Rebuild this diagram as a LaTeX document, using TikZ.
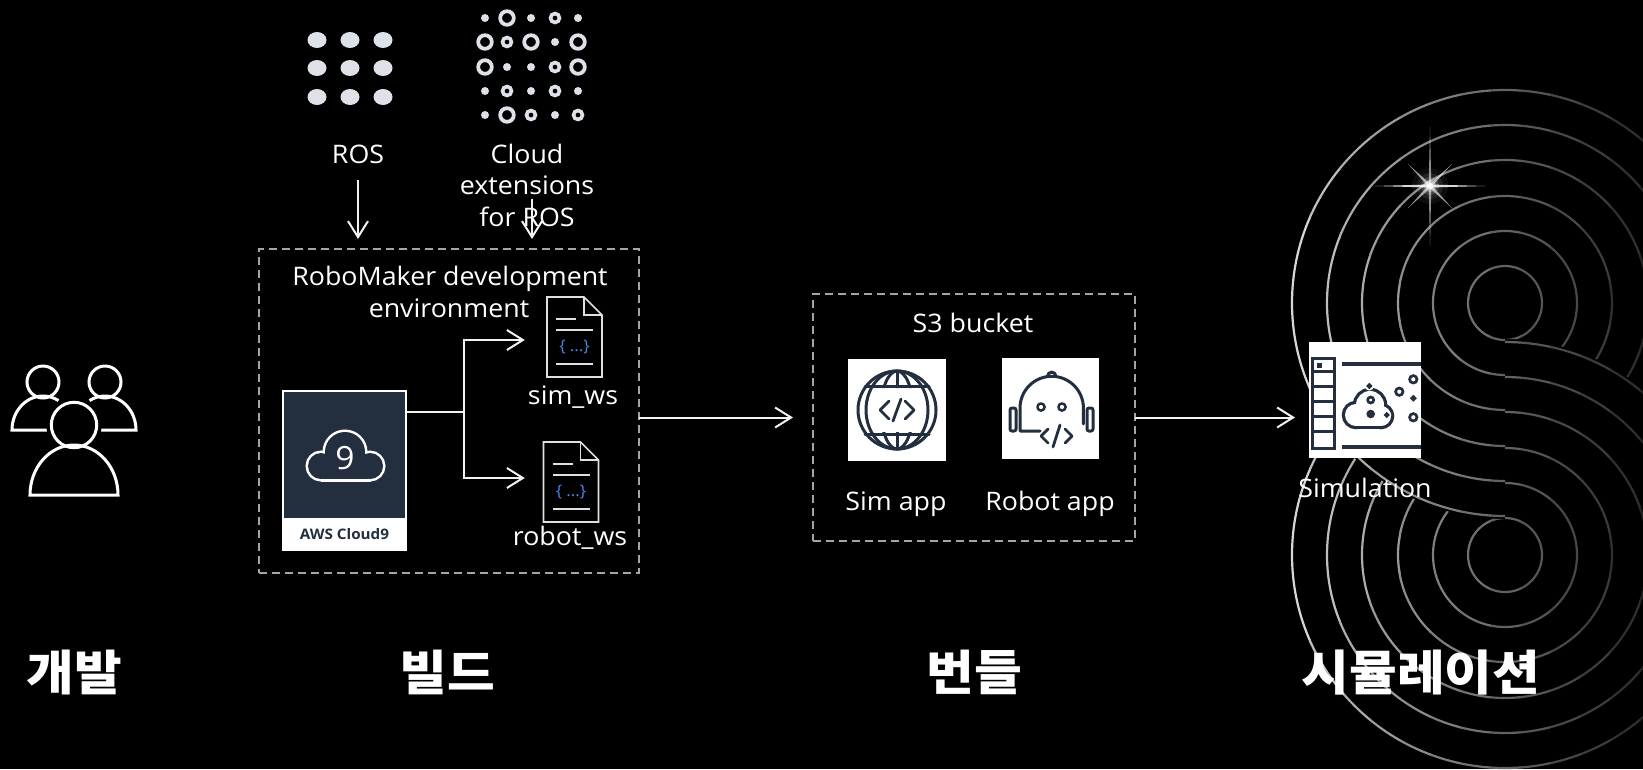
\documentclass[tikz,border=0pt]{standalone}
\usepackage{fontspec}
\setmainfont{Open Sans}[FakeStretch=1.05]
\newfontfamily\kofont{Noto Sans CJK KR}[FakeStretch=1.08]
\usetikzlibrary{arrows.meta,calc}
\definecolor{navy}{HTML}{232F3E}
\definecolor{dashgray}{HTML}{A2A6AA}
\definecolor{dotgray}{HTML}{DEE1E8}
\definecolor{codeblue}{HTML}{4A86E8}
\definecolor{linewhite}{HTML}{F2F2F2}

\begin{document}
\begin{tikzpicture}[x=1pt,y=-1pt,
  lbl/.style={text=white, font=\fontsize{25.5}{30}\selectfont, inner sep=0pt, anchor=base},
  stage/.style={text=white, font=\kofont\bfseries\fontsize{48}{52}\selectfont, inner sep=0pt, anchor=base},
  conn/.style={draw=linewhite, line width=2pt},
  arr/.style={conn, -{Straight Barb[length=16pt,width=20pt]}},
  dashbox/.style={draw=dashgray, line width=2pt, dash pattern=on 8pt off 5pt, inner sep=0pt, outer sep=0pt},
  appbox/.style={fill=white, draw=none, inner sep=0pt, outer sep=0pt},
  iconln/.style={draw=navy, line width=3pt, line cap=round, line join=round},
  pplln/.style={draw=white, line width=3pt},
  ring/.style={line width=2.2pt},
  docln/.style={draw=white!88!black, line width=1.6pt},
  docicon/.pic={
    \draw[docln] (-27.5,-40) -- (9.5,-40) -- (27.5,-22) -- (27.5,40) -- (-27.5,40) -- cycle;
    \draw[docln] (9.5,-40) -- (9.5,-22) -- (27.5,-22);
    \draw[docln] (-18.5,-18) -- (1.5,-18);
    \draw[docln] (-18.5,-7) -- (18.5,-7);
    \draw[docln] (-18.5,27) -- (18.5,27);
    \node[text=codeblue, font=\fontsize{16}{16}\selectfont, inner sep=0pt] at (0,10) {\{ ...\}};
  },
]
% canvas
\fill[black] (0,0) rectangle (1643,769);
\useasboundingbox (0,0) rectangle (1643,769);

% ---------- background swirl (two loops, fading to the right) ----------
\foreach \i in {0,...,12} {
  \pgfmathsetmacro\xa{1280+\i*30}
  \pgfmathsetmacro\lev{84-70*(\i/12)^0.8}
  \begin{scope}
    \clip (\xa-0.5,-5) rectangle (\xa+30.5,780);
    \begin{scope}
      \clip (-10,-10) -- (1800,-10) -- (1800,900) -- (-10,900) -- (-10,555) -- (1505,555) -- (1505,771)
            arc[start angle=90, end angle=-90, radius=216] -- (1505,555) -- (-10,555) -- cycle;
      \foreach \r in {37,72,107,143,178,213}
        \draw[ring, draw=white!\lev!black] (1505,303) circle[radius=\r];
    \end{scope}
    \begin{scope}
      \clip (1800,303) -- (1800,900) -- (-10,900) -- (-10,-10) -- (1800,-10) -- (1800,303) -- (1505,303) -- (1505,87)
            arc[start angle=270, end angle=90, radius=216] -- (1505,303) -- cycle;
      \foreach \r in {37,72,107,143,178,213}
        \draw[ring, draw=white!\lev!black] (1505,555) circle[radius=\r];
    \end{scope}
  \end{scope}
}
% sparkle
\coordinate (spark) at (1430,186);
\foreach \rr/\op in {18/0.05, 13/0.09, 9/0.16, 6/0.3, 3.5/0.7, 2.2/1}
  \fill[white, opacity=\op] (spark) circle[radius=\rr];
\fill[white, opacity=0.85] ($(spark)+(-55,0)$) -- ($(spark)+(0,-1.5)$) -- ($(spark)+(55,0)$) -- ($(spark)+(0,1.5)$) -- cycle;
\fill[white, opacity=0.55] ($(spark)+(0,-60)$) -- ($(spark)+(-1.3,0)$) -- ($(spark)+(0,60)$) -- ($(spark)+(1.3,0)$) -- cycle;
\fill[white, opacity=0.6] ($(spark)+(-22,-22)$) -- ($(spark)+(1.2,-1.2)$) -- ($(spark)+(22,22)$) -- ($(spark)+(-1.2,1.2)$) -- cycle;
\fill[white, opacity=0.6] ($(spark)+(22,-22)$) -- ($(spark)+(1.2,1.2)$) -- ($(spark)+(-22,22)$) -- ($(spark)+(-1.2,-1.2)$) -- cycle;

% ---------- developers ----------
\node[inner sep=0pt, minimum width=128pt, minimum height=115pt] (people) at (74,438) {};
\draw[pplln] (43,382) circle[radius=16];
\draw[pplln] (47,430) -- (12,430) arc[start angle=180, end angle=300, x radius=31, y radius=34];
\draw[pplln] (105,382) circle[radius=16];
\draw[pplln] (101,430) -- (136,430) arc[start angle=0, end angle=-120, x radius=31, y radius=34];
\fill[black, draw=black, line width=10pt] (74,425) circle[radius=22.7];
\fill[black, draw=black, line width=10pt] (30,495) arc[start angle=180, end angle=360, x radius=44, y radius=50] -- cycle;
\draw[pplln] (74,425) circle[radius=22.7];
\draw[pplln] (30,495) arc[start angle=180, end angle=360, x radius=44, y radius=50] -- cycle;

% ---------- ROS / cloud extensions ----------
\foreach \x in {317,350,383}
  \foreach \y in {40,68,97}
    \fill[dotgray] (\x,\y) ellipse[x radius=9.5, y radius=8];
\foreach \p in {(485,18),(531,18),(578,18),(555,42),(507,67),(531,67),(485,91),(531,91),(578,91),(485,115),(555,115)}
  \fill[dotgray] \p circle[radius=4];
\foreach \p in {(507,18),(485,42),(531,42),(578,42),(485,67),(578,67),(507,115)}
  \draw[dotgray, line width=3.8pt] \p circle[radius=6.8];
\foreach \p in {(555,18),(507,42),(555,67),(507,91),(555,91),(531,115),(578,115)}
  \draw[dotgray, line width=3.6pt] \p circle[radius=4.5];

\node[lbl] (ros) at (358,163) {ROS};
\node[lbl] (cext1) at (527,163) {Cloud};
\node[lbl] (cext2) at (527,194) {extensions};
\node[lbl] (cext3) at (527,226) {for ROS};

% ---------- build: RoboMaker development environment ----------
\node[dashbox, minimum width=380pt, minimum height=324pt] (devbox) at (449,411) {};
\node[lbl] (rm1) at (450,285) {RoboMaker development};
\node[lbl] (rm2) at (449,317) {environment};

\draw[arr, shorten <=17pt, shorten >=10pt] (ros.south) -- (ros.south |- devbox.north);
\coordinate (cxtop) at (532,199);
\draw[arr, shorten >=10pt] (cxtop) -- (cxtop |- devbox.north);

% AWS Cloud9 tile
\node[fill=navy, draw=white, line width=1.5pt, minimum width=123pt, minimum height=159pt, inner sep=0pt] (c9) at (344.5,470.5) {};
\fill[white] (c9.south west) rectangle ([yshift=33pt]c9.south east);
\node[text=navy, font=\bfseries\fontsize{14.5}{15}\selectfont, inner sep=0pt] (c9lbl) at (344.5,534) {AWS Cloud9};
\draw[white, line width=5pt] (321,466) circle[radius=13];
\draw[white, line width=5pt] (345,452) circle[radius=20];
\draw[white, line width=5pt] (370,466) circle[radius=13];
\draw[white, line width=5pt] (323,462) rectangle (368,479);
\fill[navy] (321,466) circle[radius=13];
\fill[navy] (345,452) circle[radius=20];
\fill[navy] (370,466) circle[radius=13];
\fill[navy] (323,462) rectangle (368,479);
\node[text=white, font=\fontsize{32}{32}\selectfont, inner sep=0pt] (c9digit) at (345,458) {9};

% workspace documents
\node[inner sep=0pt, minimum width=55pt, minimum height=80pt] (simdoc) at (574.5,337) {};
\pic at (simdoc.center) {docicon};
\node[inner sep=0pt, minimum width=54pt, minimum height=80pt] (robotdoc) at (571,482) {};
\pic at (robotdoc.center) {docicon};
\node[lbl] (simws) at (573,404) {sim\_ws};
\node[lbl] (robotws) at (570,545) {robot\_ws};

\coordinate (c9out) at ($(c9.north east)+(0,22)$);
\draw[conn] (c9out) -- ++(57,0) coordinate (split);
\draw[arr] (split) |- ([xshift=-22pt,yshift=-3pt]simdoc.west);
\draw[arr] (split) |- ([xshift=-19pt,yshift=4pt]robotdoc.west);

% ---------- bundle: S3 bucket ----------
\node[dashbox, minimum width=322pt, minimum height=247pt] (s3box) at (974,417.5) {};
\node[lbl] (s3lbl) at (973,332) {S3 bucket};
\node[appbox, minimum width=98pt, minimum height=102pt] (simapp) at (897,410) {};
\node[appbox, minimum width=97pt, minimum height=101pt] (robotapp) at (1050.5,408.5) {};
\node[lbl] (simapplbl) at (896,510) {Sim app};
\node[lbl] (robotapplbl) at (1050,510) {Robot app};

% globe with code
\draw[iconln] (897,410) circle[radius=39];
\draw[iconln] (897,410) ellipse[x radius=31, y radius=39];
\draw[iconln] (865,386) -- (929,386);
\draw[iconln] (865,434) -- (929,434);
\begin{scope}
  \clip (850,355) rectangle (945,388) (850,432) rectangle (945,465);
  \draw[iconln] (897,410) ellipse[x radius=16, y radius=39];
  \draw[iconln] (897,371) -- (897,449);
\end{scope}
\draw[iconln, line width=2.8pt] (889,401) -- (880,410) -- (889,419);
\draw[iconln, line width=2.8pt] (901,399) -- (893,421);
\draw[iconln, line width=2.8pt] (905,401) -- (914,410) -- (905,419);

% robot with code
\draw[iconln] (1040,431) -- (1020,431) -- (1020,408) arc[start angle=180, end angle=360, radius=31.7] -- (1083.4,424);
\draw[iconln] (1047.5,376.3) arc[start angle=180, end angle=360, radius=4.2];
\draw[iconln, line width=2.5pt] (1041,407) circle[radius=3.6];
\draw[iconln, line width=2.5pt] (1062,407) circle[radius=3.6];
\draw[iconln, rounded corners=2pt] (1016,408) rectangle (1010,431);
\draw[iconln, rounded corners=2pt] (1087,408) rectangle (1093,431);
\draw[iconln, line width=2.8pt] (1048,429) -- (1041,436) -- (1048,443);
\draw[iconln, line width=2.8pt] (1060,425) -- (1053,447);
\draw[iconln, line width=2.8pt] (1065,429) -- (1072,436) -- (1065,443);

% ---------- simulation ----------
\node[appbox, minimum width=112pt, minimum height=116pt] (sim) at (1365,400) {};
\node[lbl] (simlbl) at (1365,497) {Simulation};
\draw[navy, line width=3pt] (1312,358) rectangle (1334,448);
\foreach \yy in {371,386,401,416,431}
  \draw[navy, line width=3pt] (1312,\yy) -- (1334,\yy);
\fill[navy] (1317,363) rectangle (1322,368);
\draw[navy, line width=4pt] (1342,364) -- (1421,364);
\draw[navy, line width=4pt] (1342,447) -- (1421,447);
\draw[navy, line width=6.5pt] (1356,415) circle[radius=11];
\draw[navy, line width=6.5pt] (1370,405) circle[radius=14];
\draw[navy, line width=6.5pt] (1381,416) circle[radius=10];
\draw[navy, line width=6.5pt] (1357,412) rectangle (1380,426);
\fill[white] (1356,415) circle[radius=11];
\fill[white] (1370,405) circle[radius=14];
\fill[white] (1381,416) circle[radius=10];
\fill[white] (1357,412) rectangle (1380,426);
\foreach \p/\r in {(1370.7,400)/4.3, (1386.7,415)/2.6, (1369.3,386)/2.6, (1399.3,391.7)/5, (1413.3,379.3)/5, (1413.3,398.3)/2.9, (1413.3,417.3)/5}{
  \fill[white] \p circle[radius=\r+2];
  \draw[navy, line width=2.7pt] \p circle[radius=\r-1.3];
}
\fill[white] (1370.7,414) circle[radius=6];
\fill[navy] (1370.7,414) circle[radius=4.3];

% ---------- flow between stages ----------
\draw[arr, shorten >=20pt] (devbox.east |- s3box.west) -- (s3box.west);
\draw[arr, shorten >=14pt] (s3box.east) -- (s3box.east -| sim.west);

% ---------- stage titles ----------
\node[stage] (dev) at (74.5,690) {개발};
\node[stage] (build) at (447,690) {빌드};
\node[stage] (bundle) at (974.5,690) {번들};
\node[stage] (simstage) at (1421,690) {시뮬레이션};
\end{tikzpicture}
\end{document}
